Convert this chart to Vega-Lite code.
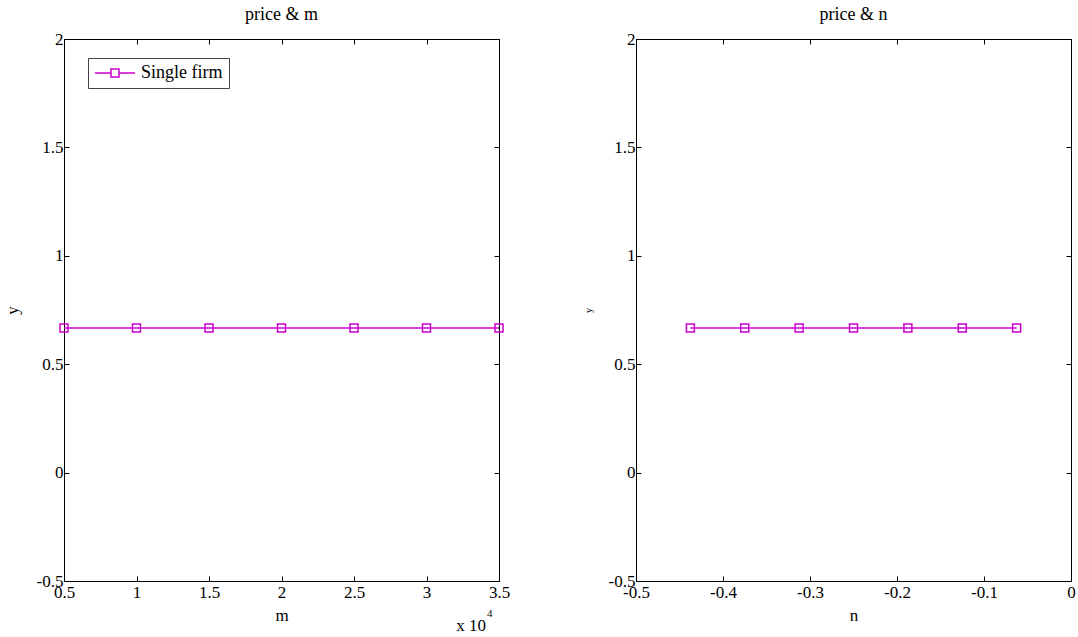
{
  "$schema": "https://vega.github.io/schema/vega-lite/v6.json",
  "background": "white",
  "padding": {"left": 2, "top": 5, "right": 5, "bottom": 5},
  "spacing": 71,
  "config": {
    "view": {"stroke": "black", "strokeWidth": 1},
    "font": "Liberation Serif",
    "axis": {
      "labelFont": "Liberation Serif", "labelFontSize": 17, "labelColor": "black",
      "titleFont": "Liberation Serif", "titleFontSize": 17, "titleFontWeight": "normal", "titleColor": "black",
      "tickColor": "black", "domainColor": "black", "tickSize": -5, "grid": false, "labelPadding": 4,
      "labelFlush": false, "labelOverlap": false
    },
    "title": {"font": "Liberation Serif", "fontSize": 18, "fontWeight": "normal", "color": "black", "offset": 6},
    "legend": {"labelFont": "Liberation Serif", "labelFontSize": 18, "labelColor": "black"}
  },
  "datasets": {
    "m": [
      {"m": 5000, "y": 0.6667},
      {"m": 10000, "y": 0.6667},
      {"m": 15000, "y": 0.6667},
      {"m": 20000, "y": 0.6667},
      {"m": 25000, "y": 0.6667},
      {"m": 30000, "y": 0.6667},
      {"m": 35000, "y": 0.6667}
    ],
    "n": [
      {"n": -0.4375, "y": 0.6667},
      {"n": -0.375, "y": 0.6667},
      {"n": -0.3125, "y": 0.6667},
      {"n": -0.25, "y": 0.6667},
      {"n": -0.1875, "y": 0.6667},
      {"n": -0.125, "y": 0.6667},
      {"n": -0.0625, "y": 0.6667}
    ]
  },
  "hconcat": [
    {
      "width": 435, "height": 542,
      "title": "price & m",
      "resolve": {"axis": {"x": "independent", "y": "independent"}},
      "layer": [
        {
          "data": {"name": "m"},
          "mark": {"type": "line", "strokeWidth": 1.5},
          "encoding": {
            "x": {"field": "m", "type": "quantitative", "scale": {"domain": [5000, 35000], "nice": false, "zero": false},
                  "axis": {"orient": "bottom", "values": [5000, 10000, 15000, 20000, 25000, 30000, 35000], "labelExpr": "toString(datum.value/10000)", "title": "m", "titlePadding": 7,
                           "labelFont": "Liberation Serif", "labelFontSize": 17, "titleFont": "Liberation Serif", "titleFontSize": 17, "tickSize": -5, "labelPadding": 8}},
            "y": {"field": "y", "type": "quantitative", "scale": {"domain": [-0.5, 2], "nice": false, "zero": false},
                  "axis": {"orient": "left", "values": [-0.5, 0, 0.5, 1, 1.5, 2], "labelExpr": "toString(datum.value)", "title": "y", "titlePadding": 15,
                           "labelFont": "Liberation Serif", "labelFontSize": 17, "titleFont": "Liberation Serif", "titleFontSize": 17, "tickSize": -5, "labelPadding": 6}},
            "color": {"datum": "Single firm", "type": "nominal", "scale": {"range": ["#cc00cc"]},
                      "legend": {"title": null, "orient": "none", "legendX": 24, "legendY": 19, "strokeColor": "#444444", "padding": 6,
                                 "symbolType": "M-1,0H1M2,0H4M1,-0.5H2V0.5H1Z", "symbolSize": 256,
                                 "symbolStrokeWidth": 1.5, "symbolFillColor": "white", "symbolStrokeColor": "#cc00cc", "labelOffset": 29}}
          }
        },
        {
          "data": {"name": "m"},
          "mark": {"type": "point", "opacity": 0},
          "encoding": {
            "x": {"field": "m", "type": "quantitative", "axis": {"orient": "top", "values": [5000, 10000, 15000, 20000, 25000, 30000, 35000], "labels": false, "title": null, "tickSize": -5}},
            "y": {"field": "y", "type": "quantitative", "axis": {"orient": "right", "values": [-0.5, 0, 0.5, 1, 1.5, 2], "labels": false, "title": null, "tickSize": -5}}
          }
        },
        {
          "data": {"name": "m"},
          "mark": {"type": "point", "shape": "square", "size": 64, "filled": false, "stroke": "#cc00cc", "strokeWidth": 1.5, "opacity": 1},
          "encoding": {
            "x": {"field": "m", "type": "quantitative", "axis": null},
            "y": {"field": "y", "type": "quantitative", "axis": null}
          }
        },
        {
          "data": {"values": [{"label": "x 10"}]},
          "mark": {"type": "text", "align": "right", "baseline": "alphabetic", "dx": -13, "dy": 50, "fontSize": 17, "font": "Liberation Serif", "color": "black"},
          "encoding": {"x": {"datum": 35000, "type": "quantitative", "axis": null}, "y": {"datum": -0.5, "type": "quantitative", "axis": null}, "text": {"field": "label"}}
        },
        {
          "data": {"values": [{"label": "4"}]},
          "mark": {"type": "text", "align": "left", "baseline": "alphabetic", "dx": -12, "dy": 36, "fontSize": 11, "font": "Liberation Serif", "color": "black"},
          "encoding": {"x": {"datum": 35000, "type": "quantitative", "axis": null}, "y": {"datum": -0.5, "type": "quantitative", "axis": null}, "text": {"field": "label"}}
        }
      ]
    },
    {
      "width": 435, "height": 542,
      "title": "price & n",
      "resolve": {"axis": {"x": "independent", "y": "independent"}},
      "layer": [
        {
          "data": {"name": "n"},
          "mark": {"type": "line", "strokeWidth": 1.5, "color": "#cc00cc"},
          "encoding": {
            "x": {"field": "n", "type": "quantitative", "scale": {"domain": [-0.5, 0], "nice": false, "zero": false},
                  "axis": {"orient": "bottom", "values": [-0.5, -0.4, -0.3, -0.2, -0.1, 0], "labelExpr": "toString(datum.value)", "title": "n", "titlePadding": 7,
                           "labelFont": "Liberation Serif", "labelFontSize": 17, "titleFont": "Liberation Serif", "titleFontSize": 17, "tickSize": -5, "labelPadding": 8}},
            "y": {"field": "y", "type": "quantitative", "scale": {"domain": [-0.5, 2], "nice": false, "zero": false},
                  "axis": {"orient": "left", "values": [-0.5, 0, 0.5, 1, 1.5, 2], "labelExpr": "toString(datum.value)", "title": "y", "titlePadding": 15,
                           "labelFont": "Liberation Serif", "labelFontSize": 17, "titleFont": "Liberation Serif", "titleFontSize": 10, "tickSize": -5, "labelPadding": 6}}
          }
        },
        {
          "data": {"name": "n"},
          "mark": {"type": "point", "opacity": 0},
          "encoding": {
            "x": {"field": "n", "type": "quantitative", "axis": {"orient": "top", "values": [-0.5, -0.4, -0.3, -0.2, -0.1, 0], "labels": false, "title": null, "tickSize": -5}},
            "y": {"field": "y", "type": "quantitative", "axis": {"orient": "right", "values": [-0.5, 0, 0.5, 1, 1.5, 2], "labels": false, "title": null, "tickSize": -5}}
          }
        },
        {
          "data": {"name": "n"},
          "mark": {"type": "point", "shape": "square", "size": 64, "filled": false, "stroke": "#cc00cc", "strokeWidth": 1.5, "opacity": 1},
          "encoding": {
            "x": {"field": "n", "type": "quantitative", "axis": null},
            "y": {"field": "y", "type": "quantitative", "axis": null}
          }
        }
      ]
    }
  ]
}
